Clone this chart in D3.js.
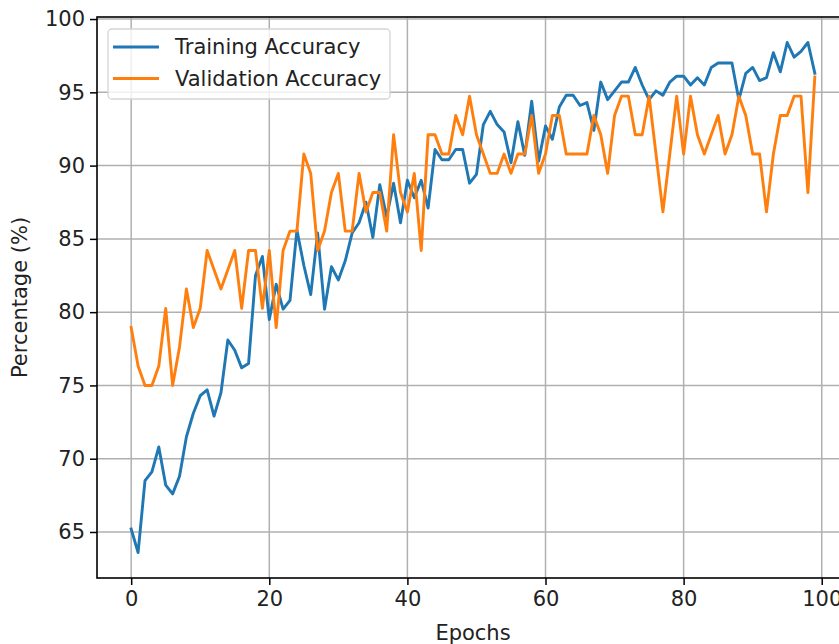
<!DOCTYPE html>
<html>
<head>
<meta charset="utf-8">
<script src="https://cdn.jsdelivr.net/npm/d3@7"></script>
<style>
  html, body { margin: 0; padding: 0; background: #fff; overflow: hidden; }
  svg { display: block; font-family: "DejaVu Sans", sans-serif; }
</style>
</head>
<body>
<div id="chart"></div>
<script>
// per-epoch accuracies
const training = [
  65.2, 63.6, 68.5, 69.1, 70.8, 68.2, 67.6, 68.8, 71.5, 73.1,
  74.3, 74.7, 72.9, 74.5, 78.1, 77.4, 76.2, 76.5, 82.5, 83.8,
  79.5, 81.9, 80.2, 80.8, 85.6, 83.2, 81.2, 85.4, 80.2, 83.1,
  82.2, 83.5, 85.4, 86.1, 87.5, 85.1, 88.7, 86.5, 88.8, 86.1,
  89.0, 87.8, 89.0, 87.1, 91.1, 90.4, 90.4, 91.1, 91.1, 88.8,
  89.4, 92.8, 93.7, 92.8, 92.3, 90.2, 93.0, 90.7, 94.4, 90.3,
  92.7, 91.8, 94.0, 94.8, 94.8, 94.1, 94.3, 92.4, 95.7, 94.5,
  95.1, 95.7, 95.7, 96.7, 95.5, 94.5, 95.1, 94.8, 95.7, 96.1,
  96.1, 95.5, 96.0, 95.5, 96.7, 97.0, 97.0, 97.0, 94.5, 96.3,
  96.7, 95.8, 96.0, 97.7, 96.4, 98.4, 97.4, 97.8, 98.4, 96.3
];
const validation = [
  78.95, 76.32, 75.00, 75.00, 76.32, 80.26, 75.00, 77.63, 81.58, 78.95,
  80.26, 84.21, 82.89, 81.58, 82.89, 84.21, 80.26, 84.21, 84.21, 80.26,
  84.21, 78.95, 84.21, 85.53, 85.53, 90.79, 89.47, 84.21, 85.53, 88.16,
  89.47, 85.53, 85.53, 89.47, 86.84, 88.16, 88.16, 85.53, 92.11, 88.16,
  86.84, 89.47, 84.21, 92.11, 92.11, 90.79, 90.79, 93.42, 92.11, 94.74,
  92.11, 90.79, 89.47, 89.47, 90.79, 89.47, 90.79, 90.79, 93.42, 89.47,
  90.79, 93.42, 93.42, 90.79, 90.79, 90.79, 90.79, 93.42, 92.11, 89.47,
  93.42, 94.74, 94.74, 92.11, 92.11, 94.74, 90.79, 86.84, 90.79, 94.74,
  90.79, 94.74, 92.11, 90.79, 92.11, 93.42, 90.79, 92.11, 94.74, 93.42,
  90.79, 90.79, 86.84, 90.79, 93.42, 93.42, 94.74, 94.74, 88.16, 96.05
];
const seriesNames = ["Training Accuracy", "Validation Accuracy"];
const seriesColors = ["#1f77b4", "#ff7f0e"];
const xTicks = [0, 20, 40, 60, 80, 100];
const yTicks = [65, 70, 75, 80, 85, 90, 95, 100];

const width = 839, height = 644;
const fontSize = "21px";
// axes box (right edge falls outside the cropped picture)
const box = { left: 97, top: 17, right: 849, bottom: 578 };

const svg = d3.select("#chart").append("svg")
  .attr("width", width).attr("height", height);

const n = training.length;
const xPad = (n - 1) * 0.05;
const x = d3.scaleLinear().domain([-xPad, n - 1 + xPad]).range([box.left, box.right]);

const all = training.concat(validation);
const lo = d3.min(all), hi = d3.max(all), yPad = (hi - lo) * 0.05;
const y = d3.scaleLinear().domain([lo - yPad, hi + yPad]).range([box.bottom, box.top]);

// grid
const grid = svg.append("g").attr("class", "grid");
grid.selectAll("line.gx").data(xTicks).enter().append("line")
  .attr("x1", d => x(d)).attr("x2", d => x(d))
  .attr("y1", box.top).attr("y2", box.bottom);
grid.selectAll("line.gy").data(yTicks).enter().append("line")
  .attr("x1", box.left).attr("x2", box.right)
  .attr("y1", d => y(d)).attr("y2", d => y(d));
grid.selectAll("line").style("stroke", "#b0b0b0").style("stroke-width", "1.5px");

// lines
const line = d3.line().x((d, i) => x(i)).y(d => y(d));
svg.append("g").selectAll("path")
  .data([training, validation]).enter().append("path")
  .attr("d", line)
  .style("fill", "none")
  .style("stroke", (d, i) => seriesColors[i])
  .style("stroke-width", "2.9px")
  .style("stroke-linejoin", "round")
  .style("stroke-linecap", "square");

// axes
const xAxis = svg.append("g").attr("transform", `translate(0,${box.bottom})`)
  .call(d3.axisBottom(x).tickValues(xTicks).tickSize(7).tickPadding(6).tickSizeOuter(0));
const yAxis = svg.append("g").attr("transform", `translate(${box.left},0)`)
  .call(d3.axisLeft(y).tickValues(yTicks).tickSize(7).tickPadding(5).tickSizeOuter(0));
[xAxis, yAxis].forEach(a => {
  a.select(".domain").remove();
  a.selectAll("line").style("stroke", "#000").style("stroke-width", "1.5px");
  a.selectAll("text").style("font-size", fontSize).style("fill", "#222")
    .style("font-family", "DejaVu Sans, sans-serif");
});

// spines
svg.append("rect")
  .attr("x", box.left).attr("y", box.top)
  .attr("width", box.right - box.left).attr("height", box.bottom - box.top)
  .style("fill", "none").style("stroke", "#000").style("stroke-width", "1.6px");

// labels
svg.append("text")
  .attr("x", (box.left + box.right) / 2).attr("y", 633)
  .attr("text-anchor", "middle").attr("dominant-baseline", "central")
  .style("font-size", fontSize).style("fill", "#222")
  .text("Epochs");
svg.append("text")
  .attr("transform", `translate(20,${(box.top + box.bottom) / 2}) rotate(-90)`)
  .attr("text-anchor", "middle").attr("dominant-baseline", "central")
  .style("font-size", fontSize).style("fill", "#222")
  .text("Percentage (%)");

// legend
const legend = svg.append("g").attr("transform", "translate(108,29)");
legend.append("rect")
  .attr("width", 282).attr("height", 70).attr("rx", 4)
  .style("fill", "#fff").style("fill-opacity", 0.8)
  .style("stroke", "#d5d5d5").style("stroke-width", "1.3px");
const item = legend.selectAll("g.item").data(seriesNames).enter().append("g")
  .attr("transform", (d, i) => `translate(0,${18 + i * 31.5})`);
item.append("line")
  .attr("x1", 5).attr("x2", 51)
  .style("stroke", (d, i) => seriesColors[i]).style("stroke-width", "2.9px");
item.append("text")
  .attr("x", 67).attr("dominant-baseline", "central")
  .style("font-size", fontSize).style("fill", "#222")
  .text(d => d);
</script>
</body>
</html>
